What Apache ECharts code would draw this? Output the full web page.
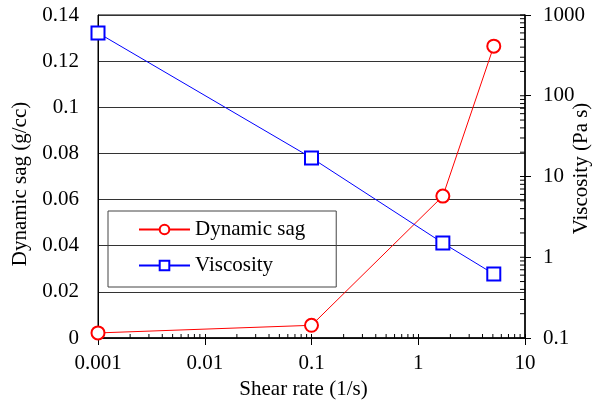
<!DOCTYPE html>
<html>
<head>
<meta charset="utf-8">
<script src="https://cdn.jsdelivr.net/npm/echarts@6/dist/echarts.min.js"></script>
<style>
  html, body { margin: 0; padding: 0; background: #fff; }
  #mychart { width: 599px; height: 403px; }
</style>
</head>
<body>
<div id="mychart"></div>
<script>
// data
var shearRate = [0.001, 0.1, 1.7, 5.1];
var dynamicSag = [0.0022, 0.0055, 0.0615, 0.1265];
var viscosity = [600, 17, 1.5, 0.62];

// minor ticks of the two log axes
var xMinor = [];
var yMinor = [];
[0.001, 0.01, 0.1, 1].forEach(function (d) {
  for (var k = 2; k <= 9; k++) xMinor.push([+(d * k).toPrecision(3), 0]);
});
[0.1, 1, 10, 100].forEach(function (d) {
  for (var k = 1; k <= 9; k++) yMinor.push([10, +(d * k).toPrecision(3)]);
});
yMinor.push([10, 1000]);

var font = 'Liberation Serif';
var fs = 21;
var mychart = echarts.init(document.getElementById('mychart'));

var option = {
  animation: false,
  grid: {
    left: 98, right: 74, top: 15, bottom: 65,
    outerBoundsMode: 'none',
    show: true, borderColor: '#000', borderWidth: 1
  },
  legend: {
    orient: 'vertical',
    left: 108, top: 211,
    padding: [8, 31, 11, 30],
    itemGap: 15,
    itemWidth: 51, itemHeight: 12,
    borderColor: '#444', borderWidth: 1,
    textStyle: { fontFamily: font, fontSize: fs, color: '#000' },
    data: ['Dynamic sag', 'Viscosity']
  },
  xAxis: [
    {
      type: 'log', logBase: 10, min: 0.001, max: 10,
      name: 'Shear rate (1/s)', nameLocation: 'middle', nameGap: 41,
      nameTextStyle: { fontFamily: font, fontSize: fs, color: '#000', padding: [0, 16, 0, 0] },
      axisLine: { lineStyle: { color: '#000', width: 1.5 } },
      axisTick: { inside: false, length: 7, lineStyle: { color: '#000' } },
      axisLabel: { fontFamily: font, fontSize: fs, color: '#000', margin: 15,
        formatter: function (v) { return String(v); } },
      splitLine: { show: false }
    },
    {
      type: 'log', logBase: 10, min: 0.001, max: 10, position: 'bottom',
      axisLine: { show: false },
      axisTick: { inside: true, length: 4, lineStyle: { color: '#000' } },
      axisLabel: { show: false },
      splitLine: { show: false }
    }
  ],
  yAxis: [
    {
      type: 'value', min: 0, max: 0.14, interval: 0.02,
      name: 'Dynamic sag (g/cc)', nameLocation: 'middle', nameGap: 65, nameRotate: 90,
      nameTextStyle: { fontFamily: font, fontSize: fs, color: '#000', padding: [0, 15, 0, 0] },
      axisLine: { show: true, lineStyle: { color: '#000' } },
      axisTick: { show: false },
      axisLabel: { fontFamily: font, fontSize: fs, color: '#000', margin: 19,
        formatter: function (v) { return String(+v.toFixed(2)); } },
      splitLine: { show: true, lineStyle: { color: '#333', width: 1 } }
    },
    {
      type: 'log', logBase: 10, min: 0.1, max: 1000, position: 'right',
      name: 'Viscosity (Pa s)', nameLocation: 'middle', nameGap: 46, nameRotate: 90,
      nameMoveOverlap: false,
      nameTextStyle: { fontFamily: font, fontSize: fs, color: '#000', padding: [0, 0, 0, 16] },
      axisLine: { show: true, lineStyle: { color: '#000', width: 1.5 } },
      axisTick: { inside: false, length: 6, lineStyle: { color: '#000' } },
      axisLabel: { fontFamily: font, fontSize: fs, color: '#000', margin: 18,
        formatter: function (v) { return String(v); } },
      splitLine: { show: false }
    }
  ],
  series: [
    {
      name: 'Dynamic sag', type: 'line',
      xAxisIndex: 0, yAxisIndex: 0,
      data: shearRate.map(function (x, i) { return [x, dynamicSag[i]]; }),
      symbol: 'emptyCircle', symbolSize: 13,
      itemStyle: { color: '#ff0000', borderWidth: 1.5 },
      lineStyle: { color: '#ff0000', width: 1 },
      z: 5
    },
    {
      name: 'Viscosity', type: 'line',
      xAxisIndex: 0, yAxisIndex: 1,
      data: shearRate.map(function (x, i) { return [x, viscosity[i]]; }),
      symbol: 'emptyRect', symbolSize: 13,
      itemStyle: { color: '#0000ff', borderWidth: 1.5 },
      lineStyle: { color: '#0000ff', width: 1 },
      z: 5
    },
    {
      // minor ticks on the bottom axis
      type: 'custom', xAxisIndex: 0, yAxisIndex: 0, silent: true,
      data: xMinor,
      renderItem: function (params, api) {
        var p = api.coord([api.value(0), api.value(1)]);
        return { type: 'line', shape: { x1: p[0], y1: p[1], x2: p[0], y2: p[1] - 4 },
          style: { stroke: '#000', lineWidth: 1 } };
      },
      z: 3
    },
    {
      // inner ticks on the right axis
      type: 'custom', xAxisIndex: 0, yAxisIndex: 1, silent: true,
      data: yMinor,
      renderItem: function (params, api) {
        var p = api.coord([api.value(0), api.value(1)]);
        return { type: 'line', shape: { x1: p[0], y1: p[1], x2: p[0] - 5, y2: p[1] },
          style: { stroke: '#000', lineWidth: 1 } };
      },
      z: 3
    }
  ]
};

mychart.setOption(option);
</script>
</body>
</html>
